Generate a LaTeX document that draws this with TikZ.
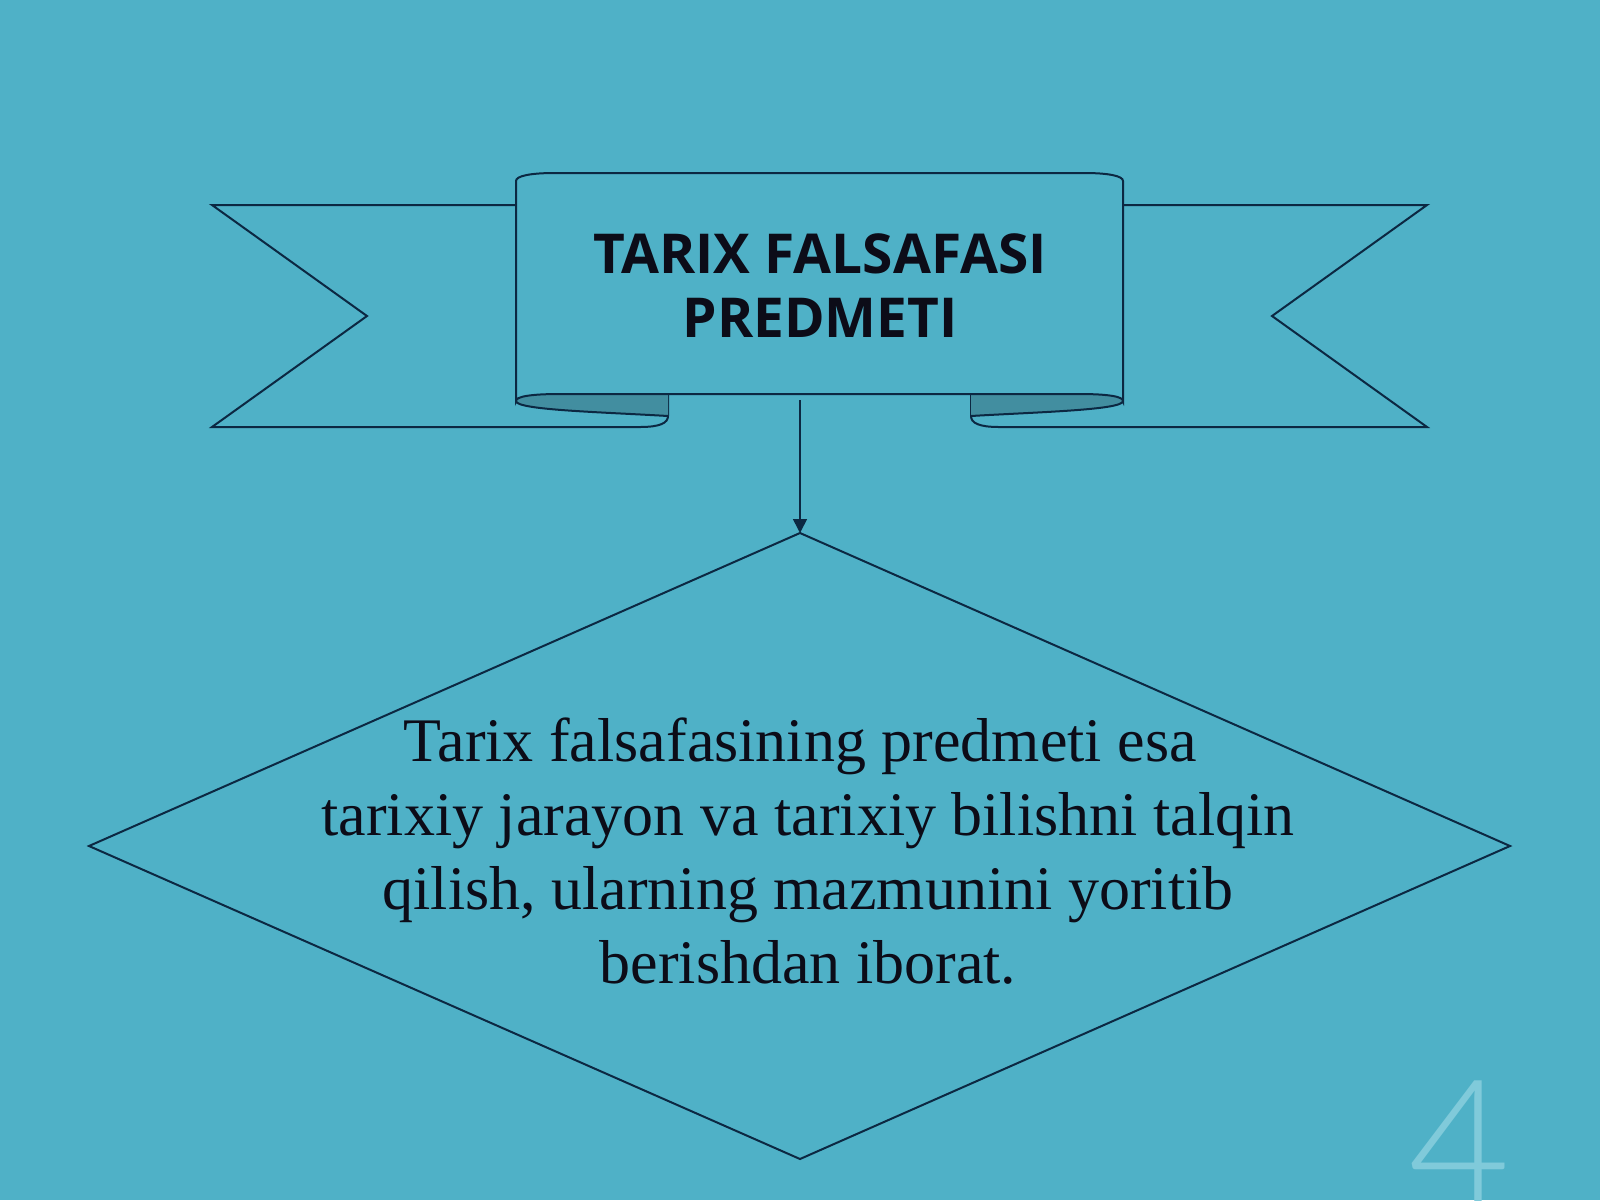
\documentclass[tikz,border=0pt]{standalone}
\usepackage{fontspec}
\setmainfont{Liberation Serif}
\newfontfamily\hdrfont{Open Sans}
\newfontfamily\numfont{Lato Light}
\usetikzlibrary{arrows.meta}
\definecolor{bg}{RGB}{79,177,199}
\definecolor{ink}{RGB}{12,40,66}
\definecolor{foldc}{RGB}{66,142,160}
\definecolor{numc}{RGB}{128,202,218}
\definecolor{txt}{RGB}{12,12,24}
\begin{document}
\begin{tikzpicture}[x=0.5pt,y=-0.5pt,line join=miter,
  outline/.style={draw=ink,line width=1pt},
  foldfill/.style={fill=foldc},
  arrowline/.style={draw=ink,line width=0.8pt,-{Triangle[width=7pt,length=7pt]}},
  hdr/.style={text=txt,align=center,inner sep=0pt,font=\hdrfont\bfseries\fontsize{27.5}{32}\selectfont},
  body/.style={text=txt,align=center,inner sep=0pt,font=\fontsize{31}{37}\selectfont},
  pagenum/.style={text=numc,inner sep=0pt,font=\numfont\fontsize{88}{88}\selectfont}]
\fill[bg] (0,0) rectangle (1600,1200);
\useasboundingbox (0,0) rectangle (1600,1200);
% left wing
\draw[outline,fill=bg] (540,205) -- (212,205) -- (367,316) -- (212,427) -- (640,427) .. controls (660,427) and (668,423) .. (668,416) -- (668,394);
% right wing
\draw[outline,fill=bg] (1099,205) -- (1427,205) -- (1272,316) -- (1427,427) -- (999,427) .. controls (979,427) and (971,423) .. (971,416) -- (971,394);
% folds
\fill[foldfill] (516,401) .. controls (516,397) and (528,394) .. (560,394) -- (668,394) -- (668,416) .. controls (600,412) and (516,410) .. (516,401) -- cycle;
\draw[outline] (516,401) .. controls (516,410) and (600,412) .. (668,416);
\fill[foldfill] (1123,401) .. controls (1123,397) and (1111,394) .. (1079,394) -- (971,394) -- (971,416) .. controls (1039,412) and (1123,410) .. (1123,401) -- cycle;
\draw[outline] (1123,401) .. controls (1123,410) and (1039,412) .. (971,416);
% central box
\draw[outline,fill=bg] (516,401) -- (516,181) .. controls (516,176) and (530,173) .. (555,173) -- (1084,173) .. controls (1109,173) and (1123,176) .. (1123,181) -- (1123,401) .. controls (1123,397) and (1111,394) .. (1079,394) -- (560,394) .. controls (528,394) and (516,397) .. (516,401) -- cycle;
\node[hdr] (title) at (820,286) {TARIX FALSAFASI\\PREDMETI};
% diamond
\coordinate (tbot) at (800,400);
\coordinate (dtop) at (800,533);
\coordinate (dright) at (1510,846);
\coordinate (dbot) at (800,1159);
\coordinate (dleft) at (89,846);
\draw[outline] (dtop) -- (dright) -- (dbot) -- (dleft) -- cycle;
\draw[arrowline] (tbot) -- (dtop);
\node[body] (desc) at (808,851) {Tarix falsafasining predmeti esa\kern0.25em\\tarixiy jarayon va tarixiy bilishni talqin\\qilish, ularning mazmunini yoritib\\berishdan iborat.};
\node[pagenum,anchor=base] (pg) at (1460,1205) {4};
\end{tikzpicture}
\end{document}
